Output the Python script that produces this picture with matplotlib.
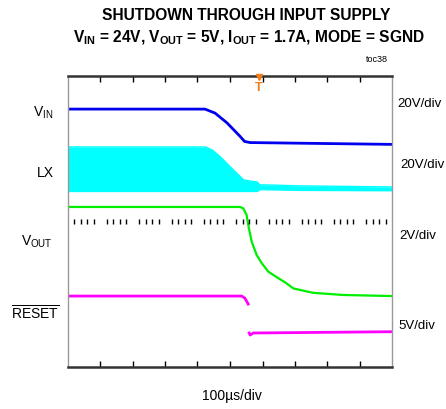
import matplotlib
matplotlib.use("Agg")
import matplotlib.pyplot as plt
import numpy as np

plt.rcParams['font.family'] = ['Liberation Sans', 'DejaVu Sans']
plt.rcParams['mathtext.fontset'] = 'custom'
plt.rcParams['mathtext.rm'] = 'Liberation Sans'
plt.rcParams['mathtext.bf'] = 'Liberation Sans:bold'
plt.rcParams['mathtext.it'] = 'Liberation Sans:italic'

# ---- data (time in µs, vertical position in screen divisions, 0 = bottom, 8 = top)
vin_t = [0, 423, 454, 491, 531, 545, 562, 1000]
vin_y = [7.09, 7.09, 6.98, 6.71, 6.34, 6.20, 6.17, 6.12]

lx_t = [0, 423, 445, 469, 500, 531, 541, 562, 583, 592, 715, 1000]
lx_top = [6.05, 6.05, 5.97, 5.79, 5.51, 5.24, 5.15, 5.11, 5.09, 5.01, 4.98, 4.95]
lx_bot = [4.82, 4.82, 4.82, 4.82, 4.82, 4.82, 4.82, 4.82, 4.82, 4.87, 4.85, 4.84]

vout_t = [0, 531, 541, 551, 558, 567, 582, 598, 618, 649, 669, 695, 755, 848, 1000]
vout_y = [4.40, 4.40, 4.36, 4.18, 3.82, 3.44, 3.08, 2.85, 2.62, 2.44, 2.33, 2.16, 2.04, 1.98, 1.95]

reset1_t = [0, 536, 546, 556]
reset1_y = [1.95, 1.95, 1.89, 1.73]
reset2_t = [559, 562, 572, 1000]
reset2_y = [0.935, 0.88, 0.935, 0.97]

trigger_t = 588

W, H = 446, 409
fig = plt.figure(figsize=(W / 100, H / 100), dpi=100)
L, R, T, B = 67.5, 392.5, 76, 367
ax = fig.add_axes([L / W, 1 - B / H, (R - L) / W, (B - T) / H])
ax.set_xlim(0, 1000)
ax.set_ylim(0, 8)

lw = 2.0
ax.fill_between(lx_t, lx_bot, lx_top, color='#00ffff', lw=0)
ax.plot(lx_t, lx_top, color='#00ffff', lw=1.0)
ax.plot(vin_t, vin_y, color='#0000ee', lw=lw)
ax.plot(vout_t, vout_y, color='#00ee00', lw=1.6)
ax.plot(reset1_t, reset1_y, color='#ff00ff', lw=lw)
ax.plot(reset2_t, reset2_y, color='#ff00ff', lw=lw)

# center line minor ticks
for k in range(10):
    for m in range(1, 5):
        xx = k * 100 + m * 20
        ax.plot([xx, xx], [3.93, 4.07], color='black', lw=1.0, solid_capstyle='butt')

# spines
for s in ['top', 'bottom']:
    ax.spines[s].set_color('#333333')
    ax.spines[s].set_linewidth(1.8)
for s in ['left', 'right']:
    ax.spines[s].set_color('#999999')
    ax.spines[s].set_linewidth(1.0)

ax.set_xticks(np.arange(100, 1000, 100))
ax.set_yticks([])
ax.tick_params(axis='x', direction='in', length=4, width=1.0, color='black',
               top=True, bottom=True, labelbottom=False, labeltop=False)

# trigger marker
ax.plot([trigger_t], [7.96], marker='v', color='#f07d1a', markersize=4.5, clip_on=False, zorder=5)
ax.text(trigger_t, 7.68, 'T', color='#f07d1a', fontsize=9, fontweight='bold',
        ha='center', va='center', zorder=5)

def fx(x):
    return x / W

def fy(y):
    return 1 - y / H

# titles
fig.text(fx(246), fy(16), 'SHUTDOWN THROUGH INPUT SUPPLY', ha='center', va='center',
         fontsize=11.2, fontweight='bold')
fig.text(fx(249), fy(38),
         r'V$_{\mathbf{IN}}$ = 24V, V$_{\mathbf{OUT}}$ = 5V, I$_{\mathbf{OUT}}$ = 1.7A, MODE = SGND',
         ha='center', va='center', fontsize=11.2, fontweight='bold')
fig.text(fx(377), fy(60), 'toc38', ha='center', va='center', fontsize=6.5)

# left labels
fig.text(fx(53), fy(113), r'V$_{\mathrm{IN}}$', ha='right', va='center', fontsize=10)
fig.text(fx(54), fy(173), 'LX', ha='right', va='center', fontsize=10)
fig.text(fx(53), fy(242), r'V$_{\mathrm{OUT}}$', ha='right', va='center', fontsize=10)
fig.text(fx(59), fy(313), r'$\overline{\mathrm{RESET}}$', ha='right', va='center', fontsize=10)

# right labels
fig.text(fx(397), fy(104), '20V/div', ha='left', va='center', fontsize=9.5)
fig.text(fx(400), fy(165), '20V/div', ha='left', va='center', fontsize=9.5)
fig.text(fx(399), fy(236), '2V/div', ha='left', va='center', fontsize=9.5)
fig.text(fx(398), fy(326), '5V/div', ha='left', va='center', fontsize=9.5)

fig.text(fx(232), fy(396), '100µs/div', ha='center', va='center', fontsize=10)

fig.savefig('out.png', dpi=100)
